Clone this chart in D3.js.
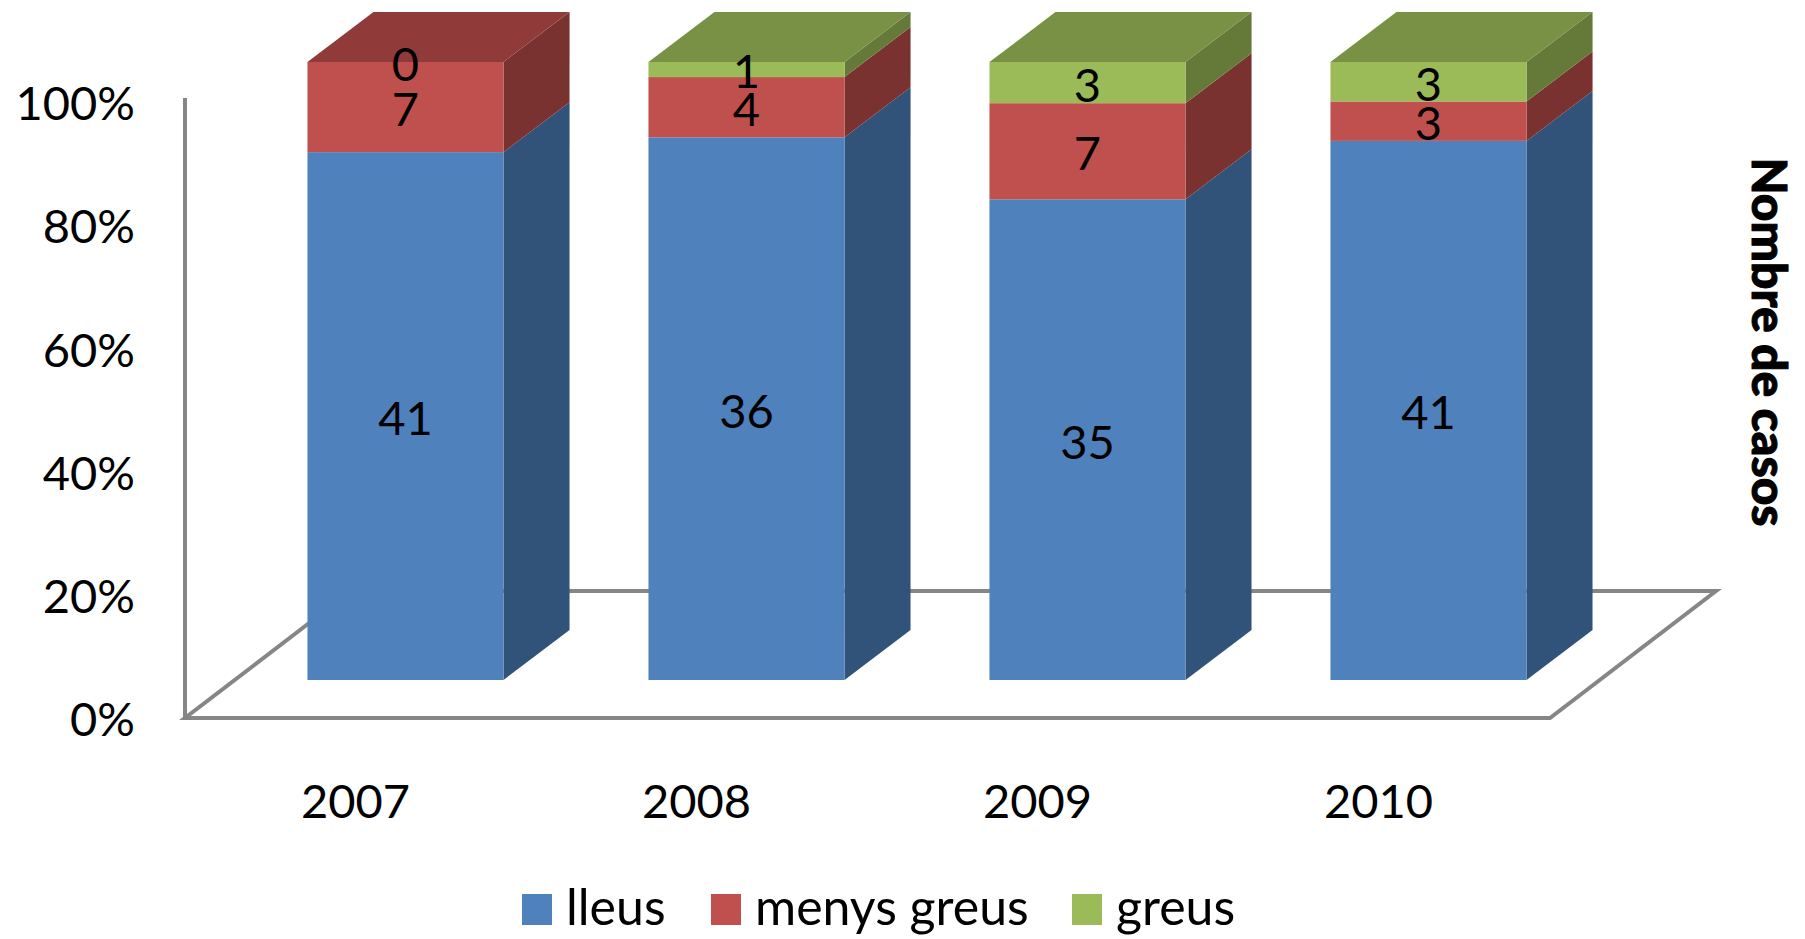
<!DOCTYPE html>
<html>
<head>
<meta charset="utf-8">
<script src="https://cdn.jsdelivr.net/npm/d3@7"></script>
<style>
    html, body { margin: 0; padding: 0; background: #fff; }
    svg { display: block; }
    text { font-family: Lato, "Open Sans", sans-serif; fill: #000; }
</style>
</head>
<body>
<div id="chart"></div>
<script>
const years = ["2007", "2008", "2009", "2010"];
const lleus = [41, 36, 35, 41];
const menysGreus = [7, 4, 7, 3];
const greus = [0, 1, 3, 3];
const seriesNames = ["lleus", "menys greus", "greus"];
const percentTicks = [0, 0.2, 0.4, 0.6, 0.8, 1];

const width = 1805;
const height = 939;
const depth = { x: 66, y: 50 };
const floorDepth = { x: 166, y: 127 };
const fontSize = 47;

const colors = {
    lleus: { front: "#4f81bd", side: "#325379", top: "#3f6797" },
    "menys greus": { front: "#c0504d", side: "#793230", top: "#903a3a" },
    greus: { front: "#9bbb59", side: "#657a39", top: "#789145" }
};

const svg = d3.select("#chart").append("svg")
    .attr("width", width)
    .attr("height", height);

const x = d3.scaleBand()
    .domain(years)
    .range([235, 1599])
    .paddingInner(0.425)
    .paddingOuter(0.2125);

const y = d3.scaleLinear().domain([0, 1]).range([680, 62]);
const yWall = d3.scaleLinear().domain([0, 1]).range([718, 98]);
const yLabels = d3.scaleLinear().domain([0, 1]).range([719, 102.5]);

// Stack to 100%
const rows = years.map((year, i) => ({
    year,
    lleus: lleus[i],
    "menys greus": menysGreus[i],
    greus: greus[i]
}));
const stacked = d3.stack()
    .keys(seriesNames)
    .offset(d3.stackOffsetExpand)(rows);

// Floor
const floorLeft = 185;
const floorRight = 1550;
const floorY = yWall(0);
const floor = d3.path();
floor.moveTo(floorLeft, floorY);
floor.lineTo(floorRight, floorY);
floor.lineTo(floorRight + floorDepth.x, floorY - floorDepth.y);
floor.lineTo(floorLeft + floorDepth.x, floorY - floorDepth.y);
floor.closePath();
svg.append("path")
    .attr("d", floor.toString())
    .attr("fill", "none")
    .attr("stroke", "#868686")
    .attr("stroke-width", 4);

// Y axis
svg.append("line")
    .attr("x1", floorLeft)
    .attr("x2", floorLeft)
    .attr("y1", yWall(1))
    .attr("y2", yWall(0))
    .attr("stroke", "#868686")
    .attr("stroke-width", 4);

const yAxis = svg.append("g")
    .attr("transform", `translate(${floorLeft},0)`)
    .call(d3.axisLeft(yLabels)
        .tickValues(percentTicks)
        .tickFormat(d3.format(".0%"))
        .tickSize(0)
        .tickPadding(50));
yAxis.select(".domain").remove();
yAxis.selectAll("text").style("font-size", fontSize + "px").attr("dy", "0.36em");

// X axis, sits left of the bars because of the 3D offset
const xAxis = svg.append("g")
    .attr("transform", "translate(-50,785)")
    .call(d3.axisBottom(x).tickSize(0).tickPadding(0));
xAxis.select(".domain").remove();
xAxis.selectAll("text").style("font-size", fontSize + "px");

// Bars
stacked.forEach(layer => {
    const c = colors[layer.key];
    const g = svg.append("g").attr("class", "series");

    // side face
    g.selectAll(".side")
        .data(layer)
        .enter()
        .append("path")
        .attr("fill", c.side)
        .attr("d", d => {
            const xr = x(d.data.year) + x.bandwidth();
            const p = d3.path();
            p.moveTo(xr, y(d[0]));
            p.lineTo(xr + depth.x, y(d[0]) - depth.y);
            p.lineTo(xr + depth.x, y(d[1]) - depth.y);
            p.lineTo(xr, y(d[1]));
            p.closePath();
            return p.toString();
        });

    // front face
    g.selectAll(".front")
        .data(layer)
        .enter()
        .append("rect")
        .attr("fill", c.front)
        .attr("x", d => x(d.data.year))
        .attr("y", d => y(d[1]))
        .attr("width", x.bandwidth())
        .attr("height", d => y(d[0]) - y(d[1]));
});

// Top face takes the colour of the highest non-empty segment
svg.selectAll(".top")
    .data(rows)
    .enter()
    .append("path")
    .attr("fill", d => colors[d.greus > 0 ? "greus" : "menys greus"].top)
    .attr("d", d => {
        const xl = x(d.year);
        const p = d3.path();
        p.moveTo(xl, y(1));
        p.lineTo(xl + depth.x, y(1) - depth.y);
        p.lineTo(xl + x.bandwidth() + depth.x, y(1) - depth.y);
        p.lineTo(xl + x.bandwidth(), y(1));
        p.closePath();
        return p.toString();
    });

// Value labels
stacked.forEach(layer => {
    svg.selectAll(".value-" + layer.index)
        .data(layer)
        .enter()
        .append("text")
        .attr("x", d => x(d.data.year) + x.bandwidth() / 2)
        .attr("y", d => (y(d[0]) + y(d[1])) / 2 + 2)
        .attr("dy", "0.36em")
        .attr("text-anchor", "middle")
        .style("font-size", fontSize + "px")
        .text(d => d.data[layer.key]);
});

// Axis title
svg.append("text")
    .attr("transform", "translate(1752,342) rotate(90)")
    .attr("text-anchor", "middle")
    .style("font-size", "48px")
    .style("font-weight", "900")
    .style("stroke", "#000")
    .style("stroke-width", 1)
    .text("Nombre de casos");

// Legend
const legendX = d3.scaleOrdinal().domain(seriesNames).range([522, 711, 1072]);
const legend = svg.selectAll(".legend")
    .data(seriesNames)
    .enter()
    .append("g")
    .attr("class", "legend")
    .attr("transform", d => `translate(${legendX(d)},894)`);
legend.append("rect")
    .attr("width", 30)
    .attr("height", 31)
    .attr("fill", d => colors[d].front);
legend.append("text")
    .attr("x", 44)
    .attr("y", 31)
    .style("font-size", "50px")
    .text(d => d);
</script>
</body>
</html>
